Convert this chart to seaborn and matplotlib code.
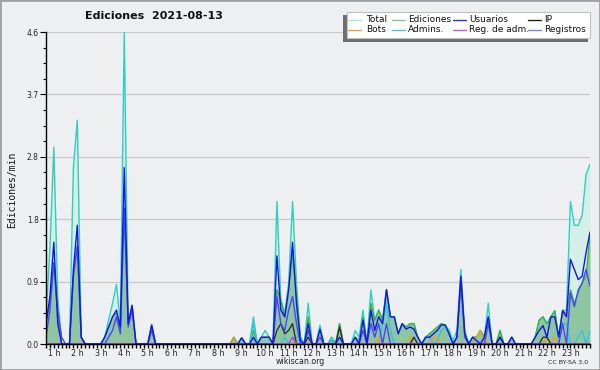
import numpy as np
import pandas as pd
import matplotlib
matplotlib.use("Agg")
import matplotlib.pyplot as plt
import seaborn as sns
from matplotlib.patches import Rectangle
from matplotlib.lines import Line2D

# ---------------- data (edits per minute, one value every 10 minutes) ----------------
start_min = 40      # first sample at 00:40
step_min = 10
hour_labels = [f"{h} h" for h in range(1, 24)]
y_tick_vals = [0.0, 0.92, 1.84, 2.76, 3.68, 4.6]

total = [
    0.4, 1.4, 2.9, 0.7, 0, 0, 0, 2.6, 3.3, 0.1,
    0, 0, 0, 0, 0, 0.1, 0.35, 0.6, 0.88, 0.3,
    4.6, 0.3, 0.57, 0, 0, 0, 0, 0.28, 0, 0,
    0, 0, 0, 0, 0, 0, 0, 0, 0, 0,
    0, 0, 0, 0, 0, 0, 0, 0, 0.1, 0,
    0.09, 0, 0, 0.4, 0, 0.1, 0.2, 0.1, 0, 2.1,
    0.65, 0.45, 0.9, 2.1, 0.9, 0.1, 0, 0.6, 0, 0,
    0.28, 0, 0, 0.1, 0, 0.3, 0, 0, 0, 0.2,
    0.1, 0.5, 0, 0.8, 0.35, 0.5, 0.35, 0.8, 0.4, 0.4,
    0.15, 0.3, 0.25, 0.3, 0.3, 0.1, 0, 0.1, 0.15, 0.2,
    0.25, 0.3, 0.28, 0.2, 0.05, 0.2, 1.1, 0.2, 0, 0.1,
    0.1, 0.2, 0.1, 0.6, 0, 0, 0.2, 0, 0, 0.1,
    0, 0, 0, 0, 0, 0.1, 0.35, 0.4, 0.3, 0.4,
    0.49, 0.1, 0.5, 0.5, 2.1, 1.75, 1.75, 1.9, 2.5, 2.65,
]
ediciones = [
    0.3, 0.6, 1.2, 0.4, 0, 0, 0, 1.0, 1.4, 0.1,
    0, 0, 0, 0, 0, 0.1, 0.25, 0.4, 0.45, 0.25,
    2.0, 0.3, 0.55, 0, 0, 0, 0, 0.28, 0, 0,
    0, 0, 0, 0, 0, 0, 0, 0, 0, 0,
    0, 0, 0, 0, 0, 0, 0, 0, 0.1, 0,
    0.09, 0, 0, 0.2, 0, 0.1, 0.1, 0.1, 0, 0.8,
    0.65, 0.4, 0.8, 1.35, 0.7, 0.1, 0, 0.4, 0, 0,
    0.2, 0, 0, 0.05, 0, 0.3, 0, 0, 0, 0.1,
    0.05, 0.4, 0, 0.6, 0.35, 0.5, 0.35, 0.8, 0.4, 0.4,
    0.15, 0.3, 0.25, 0.3, 0.3, 0.1, 0, 0.1, 0.15, 0.2,
    0.25, 0.3, 0.28, 0.15, 0, 0.1, 1.0, 0.15, 0, 0.1,
    0.1, 0.2, 0.1, 0.4, 0, 0, 0.2, 0, 0, 0.1,
    0, 0, 0, 0, 0, 0.1, 0.35, 0.4, 0.3, 0.4,
    0.49, 0.1, 0.49, 0.45, 0.8, 0.6, 0.75, 0.9, 1.0, 1.6,
]
usuarios = [
    0.3, 0.7, 1.5, 0.3, 0, 0, 0, 1.1, 1.75, 0.1,
    0, 0, 0, 0, 0, 0.1, 0.25, 0.4, 0.5, 0.25,
    2.6, 0.3, 0.57, 0, 0, 0, 0, 0.28, 0, 0,
    0, 0, 0, 0, 0, 0, 0, 0, 0, 0,
    0, 0, 0, 0, 0, 0, 0, 0, 0, 0,
    0.09, 0, 0, 0.1, 0, 0.1, 0.1, 0.1, 0, 1.3,
    0.5, 0.4, 0.8, 1.5, 0.6, 0.05, 0, 0.3, 0, 0,
    0.22, 0, 0, 0, 0, 0.1, 0, 0, 0, 0.1,
    0, 0.35, 0, 0.5, 0.2, 0.4, 0.3, 0.8, 0.4, 0.4,
    0.15, 0.3, 0.22, 0.25, 0.22, 0.1, 0, 0.1, 0.1, 0.15,
    0.2, 0.28, 0.28, 0.15, 0, 0.1, 1.0, 0.15, 0, 0.1,
    0.05, 0, 0.1, 0.4, 0, 0, 0.1, 0, 0, 0.1,
    0, 0, 0, 0, 0, 0.1, 0.2, 0.27, 0.1, 0.4,
    0.4, 0.1, 0.49, 0.4, 1.25, 1.1, 0.95, 1.0, 1.35, 1.65,
]
registros = [
    0.1, 0.5, 1.2, 0.5, 0.1, 0, 0, 1.0, 1.45, 0.1,
    0, 0, 0, 0, 0, 0, 0.1, 0.2, 0.4, 0.15,
    2.0, 0.25, 0.5, 0, 0, 0, 0, 0.2, 0, 0,
    0, 0, 0, 0, 0, 0, 0, 0, 0, 0,
    0, 0, 0, 0, 0, 0, 0, 0, 0, 0,
    0, 0, 0, 0, 0, 0, 0, 0, 0, 0.7,
    0.3, 0.2, 0.5, 0.7, 0.3, 0, 0, 0.2, 0, 0,
    0.1, 0, 0, 0, 0, 0, 0, 0, 0, 0,
    0, 0.2, 0, 0.3, 0.1, 0.3, 0, 0.3, 0, 0,
    0, 0, 0, 0, 0, 0, 0, 0, 0, 0,
    0, 0, 0, 0, 0, 0.1, 0.9, 0.1, 0, 0,
    0, 0, 0, 0.3, 0, 0, 0, 0, 0, 0,
    0, 0, 0, 0, 0, 0, 0, 0, 0, 0,
    0, 0, 0.3, 0, 0.75, 0.55, 0.8, 0.9, 1.1, 0.85,
]
# sparse series: sample slot -> value (all other slots are zero)
ip_slots = [59, 60, 61, 62, 63, 67, 75, 94, 116, 127, 128]
ip_vals = [0.2, 0.3, 0.15, 0.2, 0.3, 0.1, 0.25, 0.1, 0.1, 0.1, 0.1]
bots_slots = [48, 85, 93, 99, 100, 110, 111, 112, 128, 130]
bots_vals = [0.1, 0.1, 0.1, 0.1, 0.1, 0.1, 0.2, 0.05, 0.1, 0.1]
admins_slots = [53, 61, 64, 65, 73, 86, 87, 88, 97, 98, 100, 101, 102, 103, 132, 133, 136, 137, 139]
admins_vals = [0.3, 0.1, 0.1, 0.1, 0.1, 0.3, 0.6, 0.2, 0.1, 0.1, 0.05, 0.2, 0.25, 0.2, 0.3, 0.3, 0.1, 0.2, 0.2]
regadm_slots = [63]
regadm_vals = [0.1]

n = len(total)
hours = (start_min + step_min * np.arange(n)) / 60.0

def sparse(slots, vals):
    arr = np.zeros(n)
    arr[slots] = vals
    return arr

df = pd.DataFrame({
    "hora": hours,
    "Total": total,
    "Ediciones": ediciones,
    "Usuarios": usuarios,
    "IP": sparse(ip_slots, ip_vals),
    "Bots": sparse(bots_slots, bots_vals),
    "Admins.": sparse(admins_slots, admins_vals),
    "Reg. de adm.": sparse(regadm_slots, regadm_vals),
    "Registros": registros,
})
long = df.melt(id_vars="hora", var_name="serie", value_name="valor")

line_colors = {
    "Total": "#2fcfc0", "Ediciones": "#3fb046", "Admins.": "#30c4dc",
    "Bots": "#e8a020", "IP": "#303030", "Reg. de adm.": "#c040d8",
    "Registros": "#4848f2", "Usuarios": "#1414e6",
}
legend_colors = {
    "Total": "#a8e4e0", "Ediciones": "#80cc80", "Usuarios": "#3030e0", "IP": "#202020",
    "Bots": "#f0a030", "Admins.": "#40c8e0", "Reg. de adm.": "#d050e0", "Registros": "#8080f0",
}
draw_order = ["Total", "Ediciones", "Admins.", "Bots", "IP", "Reg. de adm.", "Registros", "Usuarios"]

# ---------------- figure ----------------
sns.set_theme(style="white")
plt.rcParams["font.family"] = ["DejaVu Sans"]
bg = "#eeeff1"
W, H = 600, 370
fig = plt.figure(figsize=(6, 3.7), dpi=100, facecolor=bg)
ax = fig.add_axes([46 / W, 1 - 344 / H, (590 - 46) / W, (344 - 32) / H])
ax.set_facecolor(bg)

ax.fill_between(df["hora"], 0, df["Total"], color="#d4eee8", lw=0, zorder=1)
ax.fill_between(df["hora"], 0, df["Ediciones"], color="#8fc6a2", lw=0, zorder=2)

sns.lineplot(data=long, x="hora", y="valor", hue="serie", hue_order=draw_order,
             palette=line_colors, legend=False, linewidth=1.0, ax=ax, zorder=3)

ax.set_xlim(hours[0], hours[-1])
ax.set_ylim(0, 4.6)
ax.set_xlabel("")
ax.set_ylabel("")

ax.set_yticks(y_tick_vals)
ax.set_yticklabels([f"{v:.1f}" for v in y_tick_vals])
ax.set_yticks(np.arange(0, 4.61, 0.23), minor=True)
ax.set_xticks(np.arange(1, 24))
ax.set_xticklabels(hour_labels)
ax.set_xticks(hours, minor=True)

ax.yaxis.grid(True, which="major", color="#c8c8c8", lw=0.9, zorder=0)
ax.xaxis.grid(False)
ax.set_axisbelow(True)
for s in ["top", "right"]:
    ax.spines[s].set_visible(False)
for s in ["left", "bottom"]:
    ax.spines[s].set_color("black")
    ax.spines[s].set_linewidth(1.0)
    ax.spines[s].set_zorder(5)

ax.tick_params(axis="y", which="major", direction="out", length=4.3, width=0.8,
               color="black", labelsize=5.5, pad=1, left=True)
ax.tick_params(axis="y", which="minor", direction="out", length=2.2, width=0.8,
               color="black", left=True)
ax.tick_params(axis="x", which="both", direction="out", length=3, width=1.0,
               color="black", labelsize=5.8, pad=0.5, bottom=True)

# ---------------- texts ----------------
fig.text(154 / W, 1 - 16 / H, "Ediciones  2021-08-13", ha="center", va="center",
         fontsize=8, fontweight="bold", color="#111111")
fig.text(12 / W, 1 - 190 / H, "Ediciones/min", rotation=90, ha="center", va="center",
         fontsize=7, family=["DejaVu Sans Mono"], color="#111111")
fig.text(300 / W, 1 - 361 / H, "wikiscan.org", ha="center", va="center",
         fontsize=5.7, color="#222222")
fig.text(568 / W, 1 - 362 / H, "CC BY-SA 3.0", ha="center", va="center",
         fontsize=4.5, color="#222222")

# ---------------- legend (manual box with shadow) ----------------
def fx(px):
    return px / W

def fy(py):
    return 1 - py / H

fig.patches.append(Rectangle((fx(343), fy(41.7)), fx(588) - fx(343), fy(15) - fy(41.7),
                             transform=fig.transFigure, facecolor="#6e6e6e", edgecolor="none", zorder=10))
fig.patches.append(Rectangle((fx(347), fy(38.3)), fx(590) - fx(347), fy(11.7) - fy(38.3),
                             transform=fig.transFigure, facecolor="white", edgecolor="#c0c0c0",
                             lw=0.8, zorder=11))
leg_rows = [["Total", "Ediciones", "Usuarios", "IP"],
            ["Bots", "Admins.", "Reg. de adm.", "Registros"]]
col_line_x = [(348, 361), (392, 405), (453, 466), (528, 541)]
col_text_x = [366, 408, 469, 544]
row_y = [19.5, 29.5]
for r, row in enumerate(leg_rows):
    for c, name in enumerate(row):
        x0, x1 = col_line_x[c]
        fig.lines.append(Line2D([fx(x0), fx(x1)], [fy(row_y[r]), fy(row_y[r])],
                                transform=fig.transFigure, color=legend_colors[name],
                                lw=1.0, zorder=12))
        fig.text(fx(col_text_x[c]), fy(row_y[r]), name, ha="left", va="center",
                 fontsize=6.5, color="#111111", zorder=12)

# figure border
fig.patches.append(Rectangle((0, 0), 1, 1, transform=fig.transFigure, fill=False,
                             edgecolor="#a0a0a0", lw=2, zorder=20))

fig.savefig("out.png", dpi=100, facecolor=bg)
